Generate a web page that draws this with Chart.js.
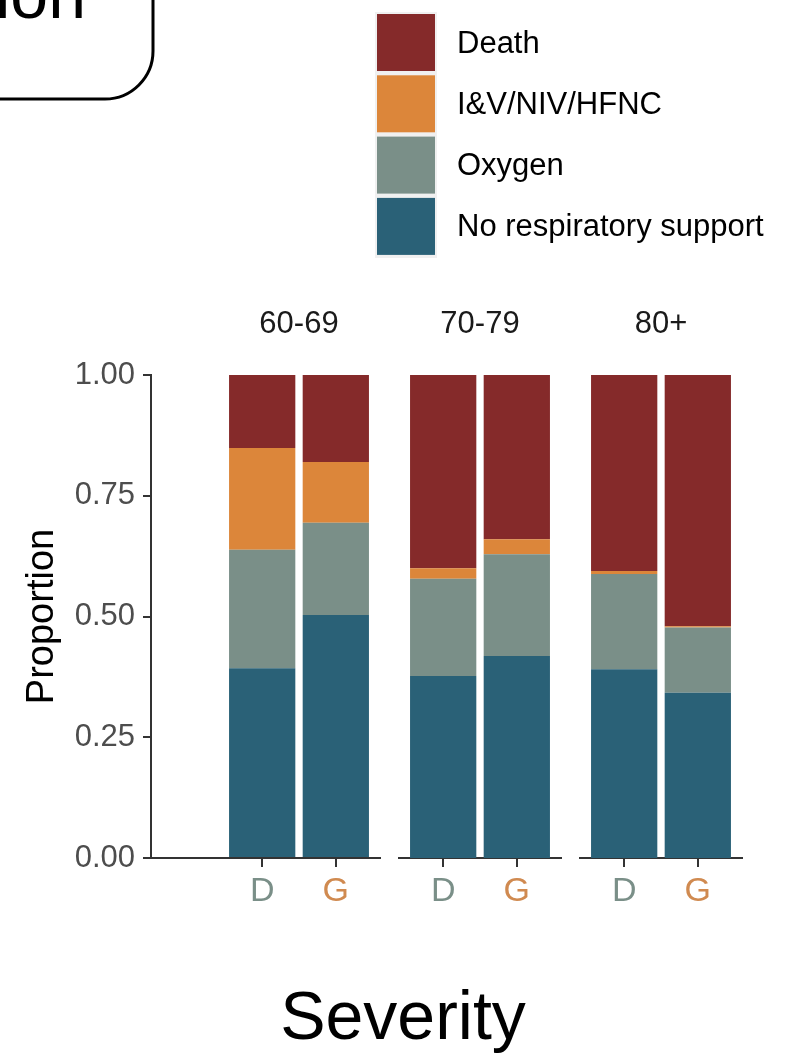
<!DOCTYPE html>
<html>
<head>
<meta charset="utf-8">
<script src="https://cdn.jsdelivr.net/npm/chart.js@4.4.1/dist/chart.umd.min.js"></script>
<style>
html, body { margin: 0; padding: 0; background: #ffffff; }
#wrap { position: relative; width: 797px; height: 1054px; overflow: hidden; }
#wrap canvas { position: absolute; left: 0; top: 0; }
</style>
</head>
<body>
<div id="wrap">
<canvas id="p0" width="797" height="1054"></canvas>
<canvas id="p1" width="797" height="1054"></canvas>
<canvas id="p2" width="797" height="1054"></canvas>
</div>
<script>
const ageGroups = ["60-69", "70-79", "80+"];
const sources = ["D", "G"];
const yTicks = [0, 0.25, 0.5, 0.75, 1];

// two values per age group, D then G
const noSupport   = [0.393, 0.503, 0.377, 0.418, 0.391, 0.342];
const oxygen      = [0.245, 0.191, 0.201, 0.211, 0.197, 0.135];
const ventilation = [0.211, 0.126, 0.022, 0.031, 0.006, 0.003];
const death       = [0.151, 0.180, 0.400, 0.340, 0.406, 0.520];

const outcomes = ["No respiratory support", "Oxygen", "I&V/NIV/HFNC", "Death"];
const outcomeValues = [noSupport, oxygen, ventilation, death];
const outcomeColors = ["#2a6177", "#7a8f88", "#dc863a", "#852a2a"];
const sourceColors = ["#7a8f88", "#d08a50"];

const FONT = "'Liberation Sans', Arial, sans-serif";
const W = 797, H = 1054;
const AREA_TOP = 375, AREA_BOTTOM = 858, X_AXIS_H = 60;

/* ---------- facet panels ---------- */
const panels = [
  { id: "p0", left: 151, right: 380, xMin: -0.51, showY: true },
  { id: "p1", left: 399, right: 561, xMin: 0.4, showY: false },
  { id: "p2", left: 580, right: 742, xMin: 0.4, showY: false }
];

/* strip label above each panel */
const stripLabel = {
  id: "stripLabel",
  afterDraw(chart) {
    const xs = chart.scales.x;
    const c = chart.ctx;
    const cx = (xs.getPixelForValue(0.4) + xs.getPixelForValue(2.6)) / 2;
    c.save();
    c.font = "31px " + FONT;
    c.fillStyle = "#1a1a1a";
    c.textAlign = "center";
    c.textBaseline = "alphabetic";
    c.fillText(chart.options.plugins.stripLabel.text, cx, 333);
    c.restore();
  }
};

/* legend, x title and the cut off label box */
const decor = {
  id: "decor",
  afterDraw(chart) {
    const c = chart.ctx;
    c.save();

    // label box, mostly outside the picture
    c.lineWidth = 3;
    c.strokeStyle = "#000000";
    c.beginPath();
    c.roundRect(-60, -80, 213, 179, 48);
    c.stroke();
    c.font = "68px " + FONT;
    c.fillStyle = "#000000";
    c.textAlign = "right";
    c.textBaseline = "alphabetic";
    c.fillText("ion", 86, 18);

    // legend
    c.fillStyle = "#f0f0f0";
    c.fillRect(375, 12, 62, 246);
    const order = [3, 2, 1, 0];
    order.forEach((k, i) => {
      const y = 14 + i * 61.3;
      c.fillStyle = outcomeColors[k];
      c.fillRect(377, y, 58, 57);
      c.fillStyle = "#000000";
      c.font = "31px " + FONT;
      c.textAlign = "left";
      c.textBaseline = "middle";
      c.fillText(outcomes[k], 457, y + 30);
    });

    // x axis title
    c.font = "68px " + FONT;
    c.textAlign = "center";
    c.textBaseline = "alphabetic";
    c.fillText("Severity", 403, 1039);
    c.restore();
  }
};

panels.forEach((p, i) => {
  const datasets = outcomes.map((name, k) => ({
    label: name,
    data: sources.map((s, j) => ({ x: j + 1, y: outcomeValues[k][i * 2 + j] })),
    backgroundColor: outcomeColors[k],
    borderWidth: 0,
    categoryPercentage: 1,
    barPercentage: 0.9
  }));

  const yScale = {
    display: p.showY,
    min: 0,
    max: 1,
    stacked: true
  };
  if (p.showY) {
    Object.assign(yScale, {
      afterBuildTicks: (s) => { s.ticks = yTicks.map(v => ({ value: v })); },
      afterFit: (s) => { s.width = p.left; },
      ticks: {
        callback: (v) => Number(v).toFixed(2),
        color: "#4d4d4d",
        font: { family: FONT, size: 31 },
        padding: 8
      },
      grid: { drawOnChartArea: false, drawTicks: true, tickLength: 8, color: "#333333", lineWidth: 2 },
      border: { display: true, color: "#333333", width: 2 },
      title: {
        display: true,
        text: "Proportion",
        color: "#000000",
        font: { family: FONT, size: 38 },
        padding: { top: 20, bottom: 0 }
      }
    });
  }

  new Chart(document.getElementById(p.id), {
    type: "bar",
    data: { datasets: datasets },
    plugins: i === 0 ? [stripLabel, decor] : [stripLabel],
    options: {
      responsive: false,
      animation: false,
      devicePixelRatio: 1,
      layout: {
        padding: {
          top: AREA_TOP,
          bottom: H - AREA_BOTTOM - X_AXIS_H,
          left: p.showY ? 0 : p.left,
          right: W - p.right
        }
      },
      plugins: {
        legend: { display: false },
        tooltip: { enabled: false },
        stripLabel: { text: ageGroups[i] }
      },
      scales: {
        x: {
          type: "linear",
          offset: false,
          min: p.xMin,
          max: 2.6,
          stacked: true,
          afterBuildTicks: (s) => { s.ticks = sources.map((_, j) => ({ value: j + 1 })); },
          afterFit: (s) => { s.height = X_AXIS_H; s.paddingLeft = 0; s.paddingRight = 0; },
          ticks: {
            callback: (v, idx) => sources[idx],
            color: (ctx) => sourceColors[ctx.index],
            font: { family: FONT, size: 34 },
            padding: 4,
            maxRotation: 0,
            autoSkip: false
          },
          grid: { offset: false, drawOnChartArea: false, drawTicks: true, tickLength: 9, color: "#333333", lineWidth: 2 },
          border: { display: true, color: "#333333", width: 2 }
        },
        y: yScale
      }
    }
  });
});
</script>
</body>
</html>
